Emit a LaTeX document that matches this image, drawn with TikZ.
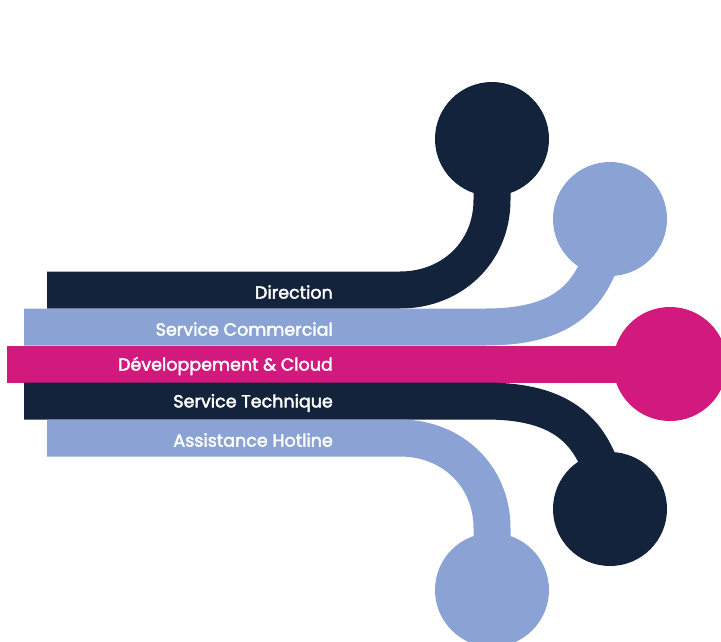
\documentclass[tikz,border=0pt]{standalone}
\usepackage{fontspec}
\setmainfont{Poppins}
\newfontfamily\labfont{Poppins}[FakeBold=2.2]
\definecolor{navy}{HTML}{13233B}
\definecolor{sky}{HTML}{8AA3D4}
\definecolor{mag}{HTML}{D2197E}
\begin{document}
\begin{tikzpicture}[x=1pt,y=-1pt,
  band/.style={line width=37pt, line cap=butt},
  dot/.style={circle, minimum size=114pt, inner sep=0pt, draw=none},
  lab/.style={anchor=east, text=white, inner sep=0pt, font=\labfont\fontsize{17.5}{20}\selectfont}]
\useasboundingbox (0,0) rectangle (721,641);
\clip (0,0) rectangle (721,641);
% band starts and circle centres
\coordinate (s1) at (47,290);
\coordinate (s2) at (24,327);
\coordinate (s3) at (7,364);
\coordinate (s4) at (24,401);
\coordinate (s5) at (47,438);
\coordinate (p1) at (492,139);
\coordinate (p2) at (610,219);
\coordinate (p3) at (670,364);
\coordinate (p4) at (610,509);
\coordinate (p5) at (492,590);
% bands
\draw[band, navy] (s1) -- (400,290) .. controls (452,290) and (492,252) .. (492,200) -- (p1);
\draw[band, sky] (s2) -- (485,327) .. controls (560,327) and (600,300) .. (p2);
\draw[band, mag] (s3) -- (p3);
\draw[band, navy] (s4) -- (485,401) .. controls (560,401) and (600,428) .. (p4);
\draw[band, sky] (s5) -- (400,438) .. controls (452,438) and (492,476) .. (492,528) -- (p5);
% circles
\node[dot, fill=navy] (c1) at (p1) {};
\node[dot, fill=sky] (c2) at (p2) {};
\node[dot, fill=mag] (c3) at (p3) {};
\node[dot, fill=navy] (c4) at (p4) {};
\node[dot, fill=sky] (c5) at (p5) {};
% labels
\node[lab] (l1) at (333,292) {Direction};
\node[lab] (l2) at (333,329) {Service Commercial};
\node[lab] (l3) at (333,366) {Développement \& Cloud};
\node[lab] (l4) at (333,403) {Service Technique};
\node[lab] (l5) at (333,440) {Assistance Hotline};
\end{tikzpicture}
\end{document}
